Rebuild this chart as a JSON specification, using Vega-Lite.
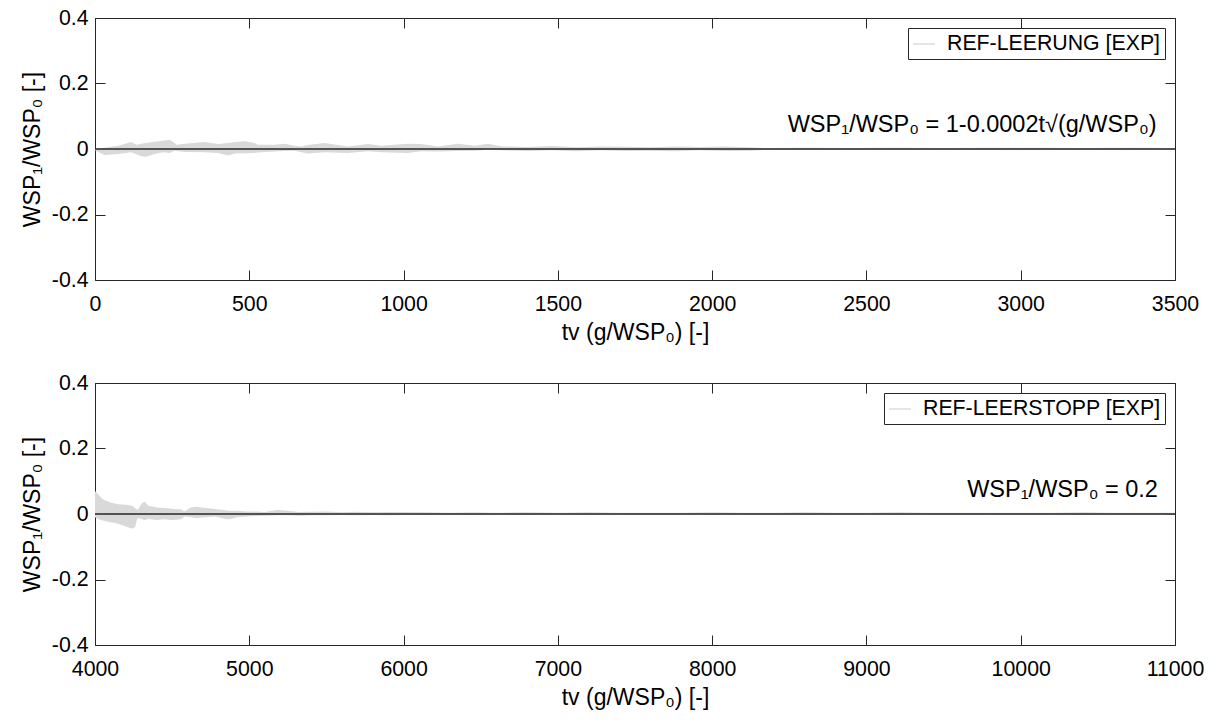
{
  "$schema": "https://vega.github.io/schema/vega-lite/v6.json",
  "autosize": "pad",
  "padding": {"left": 20, "top": 6, "right": 5, "bottom": 5},
  "background": "white",
  "bounds": "flush",
  "spacing": 103,
  "config": {
    "font": "Liberation Sans",
    "view": {"stroke": "#262626", "strokeWidth": 1},
    "axis": {
      "grid": false, "domain": false, "tickColor": "#262626", "tickSize": -10, "tickWidth": 1, "labelFlush": false,
      "labelFont": "Liberation Sans", "labelFontSize": 21.3, "labelColor": "#000",
      "titleFont": "Liberation Sans", "titleFontSize": 23, "titleFontWeight": "normal", "titleColor": "#000"
    },
    "legend": {
      "title": null, "orient": "top-right", "offset": 10, "symbolType": "stroke",
      "symbolStrokeColor": "#dcdcdc", "symbolStrokeWidth": 1.5, "symbolSize": 484,
      "labelFont": "Liberation Sans", "labelFontSize": 21.3, "labelColor": "#000", "labelOffset": 11, "labelLimit": 0,
      "padding": 4, "strokeColor": "#262626", "fillColor": "white", "cornerRadius": 0
    }
  },
  "datasets": {
    "top": [
      {"tv": 0, "lo": -0.004, "hi": 0.000},
      {"tv": 30, "lo": -0.018, "hi": 0.004},
      {"tv": 75, "lo": -0.015, "hi": 0.010},
      {"tv": 118, "lo": -0.010, "hi": 0.021},
      {"tv": 134, "lo": -0.016, "hi": 0.013},
      {"tv": 150, "lo": -0.022, "hi": 0.016},
      {"tv": 166, "lo": -0.024, "hi": 0.018},
      {"tv": 193, "lo": -0.015, "hi": 0.022},
      {"tv": 220, "lo": -0.010, "hi": 0.025},
      {"tv": 242, "lo": -0.012, "hi": 0.028},
      {"tv": 258, "lo": -0.005, "hi": 0.018},
      {"tv": 264, "lo": -0.006, "hi": 0.013},
      {"tv": 291, "lo": -0.009, "hi": 0.016},
      {"tv": 355, "lo": -0.010, "hi": 0.021},
      {"tv": 399, "lo": -0.012, "hi": 0.015},
      {"tv": 431, "lo": -0.020, "hi": 0.018},
      {"tv": 453, "lo": -0.014, "hi": 0.021},
      {"tv": 485, "lo": -0.013, "hi": 0.024},
      {"tv": 517, "lo": -0.012, "hi": 0.018},
      {"tv": 528, "lo": -0.011, "hi": 0.013},
      {"tv": 582, "lo": -0.008, "hi": 0.013},
      {"tv": 615, "lo": -0.006, "hi": 0.016},
      {"tv": 647, "lo": -0.005, "hi": 0.010},
      {"tv": 669, "lo": -0.010, "hi": 0.008},
      {"tv": 690, "lo": -0.014, "hi": 0.012},
      {"tv": 744, "lo": -0.010, "hi": 0.018},
      {"tv": 820, "lo": -0.012, "hi": 0.008},
      {"tv": 885, "lo": -0.007, "hi": 0.015},
      {"tv": 928, "lo": -0.010, "hi": 0.010},
      {"tv": 1014, "lo": -0.012, "hi": 0.016},
      {"tv": 1057, "lo": -0.007, "hi": 0.015},
      {"tv": 1111, "lo": -0.008, "hi": 0.008},
      {"tv": 1176, "lo": -0.006, "hi": 0.016},
      {"tv": 1230, "lo": -0.005, "hi": 0.010},
      {"tv": 1273, "lo": -0.002, "hi": 0.016},
      {"tv": 1320, "lo": -0.004, "hi": 0.008},
      {"tv": 1400, "lo": -0.006, "hi": 0.006},
      {"tv": 1480, "lo": -0.004, "hi": 0.009},
      {"tv": 1560, "lo": -0.007, "hi": 0.005},
      {"tv": 1640, "lo": -0.004, "hi": 0.008},
      {"tv": 1720, "lo": -0.006, "hi": 0.007},
      {"tv": 1800, "lo": -0.005, "hi": 0.005},
      {"tv": 1880, "lo": -0.007, "hi": 0.008},
      {"tv": 1960, "lo": -0.004, "hi": 0.006},
      {"tv": 2040, "lo": -0.006, "hi": 0.008},
      {"tv": 2120, "lo": -0.005, "hi": 0.005},
      {"tv": 2170, "lo": -0.003, "hi": 0.003},
      {"tv": 2300, "lo": -0.003, "hi": 0.004},
      {"tv": 2450, "lo": -0.002, "hi": 0.003},
      {"tv": 2600, "lo": -0.003, "hi": 0.004},
      {"tv": 2750, "lo": -0.002, "hi": 0.003},
      {"tv": 2900, "lo": -0.003, "hi": 0.004},
      {"tv": 3050, "lo": -0.002, "hi": 0.004},
      {"tv": 3200, "lo": -0.003, "hi": 0.003},
      {"tv": 3350, "lo": -0.002, "hi": 0.004},
      {"tv": 3500, "lo": -0.003, "hi": 0.003}
    ],
    "bot": [
      {"tv": 4000, "lo": -0.010, "hi": 0.070},
      {"tv": 4020, "lo": -0.015, "hi": 0.060},
      {"tv": 4050, "lo": -0.020, "hi": 0.045},
      {"tv": 4100, "lo": -0.025, "hi": 0.035},
      {"tv": 4150, "lo": -0.030, "hi": 0.030},
      {"tv": 4200, "lo": -0.038, "hi": 0.028},
      {"tv": 4240, "lo": -0.045, "hi": 0.025},
      {"tv": 4260, "lo": -0.040, "hi": 0.018},
      {"tv": 4275, "lo": -0.012, "hi": 0.012},
      {"tv": 4300, "lo": -0.015, "hi": 0.030},
      {"tv": 4320, "lo": -0.018, "hi": 0.038},
      {"tv": 4345, "lo": -0.015, "hi": 0.025},
      {"tv": 4400, "lo": -0.018, "hi": 0.020},
      {"tv": 4450, "lo": -0.016, "hi": 0.018},
      {"tv": 4500, "lo": -0.018, "hi": 0.016},
      {"tv": 4560, "lo": -0.016, "hi": 0.014},
      {"tv": 4580, "lo": -0.008, "hi": 0.008},
      {"tv": 4620, "lo": -0.010, "hi": 0.020},
      {"tv": 4660, "lo": -0.012, "hi": 0.022},
      {"tv": 4720, "lo": -0.010, "hi": 0.018},
      {"tv": 4780, "lo": -0.008, "hi": 0.015},
      {"tv": 4830, "lo": -0.014, "hi": 0.012},
      {"tv": 4870, "lo": -0.016, "hi": 0.010},
      {"tv": 4920, "lo": -0.010, "hi": 0.010},
      {"tv": 4980, "lo": -0.008, "hi": 0.008},
      {"tv": 5050, "lo": -0.006, "hi": 0.008},
      {"tv": 5100, "lo": -0.005, "hi": 0.006},
      {"tv": 5180, "lo": -0.004, "hi": 0.012},
      {"tv": 5250, "lo": -0.004, "hi": 0.010},
      {"tv": 5320, "lo": -0.005, "hi": 0.006},
      {"tv": 5400, "lo": -0.004, "hi": 0.007},
      {"tv": 5500, "lo": -0.004, "hi": 0.008},
      {"tv": 5600, "lo": -0.003, "hi": 0.005},
      {"tv": 5700, "lo": -0.004, "hi": 0.007},
      {"tv": 5800, "lo": -0.003, "hi": 0.005},
      {"tv": 5900, "lo": -0.004, "hi": 0.006},
      {"tv": 6000, "lo": -0.003, "hi": 0.006},
      {"tv": 6150, "lo": -0.003, "hi": 0.005},
      {"tv": 6300, "lo": -0.003, "hi": 0.004},
      {"tv": 6450, "lo": -0.003, "hi": 0.005},
      {"tv": 6600, "lo": -0.002, "hi": 0.004},
      {"tv": 6800, "lo": -0.003, "hi": 0.005},
      {"tv": 7000, "lo": -0.002, "hi": 0.004},
      {"tv": 7200, "lo": -0.003, "hi": 0.005},
      {"tv": 7400, "lo": -0.002, "hi": 0.004},
      {"tv": 7600, "lo": -0.003, "hi": 0.004},
      {"tv": 7800, "lo": -0.002, "hi": 0.004},
      {"tv": 8000, "lo": -0.003, "hi": 0.005},
      {"tv": 8200, "lo": -0.002, "hi": 0.004},
      {"tv": 8400, "lo": -0.003, "hi": 0.004},
      {"tv": 8600, "lo": -0.002, "hi": 0.005},
      {"tv": 8800, "lo": -0.003, "hi": 0.004},
      {"tv": 9000, "lo": -0.002, "hi": 0.004},
      {"tv": 9200, "lo": -0.003, "hi": 0.005},
      {"tv": 9400, "lo": -0.002, "hi": 0.004},
      {"tv": 9600, "lo": -0.003, "hi": 0.004},
      {"tv": 9800, "lo": -0.002, "hi": 0.004},
      {"tv": 10000, "lo": -0.003, "hi": 0.004},
      {"tv": 10200, "lo": -0.002, "hi": 0.004},
      {"tv": 10400, "lo": -0.003, "hi": 0.005},
      {"tv": 10600, "lo": -0.002, "hi": 0.004},
      {"tv": 10800, "lo": -0.003, "hi": 0.004},
      {"tv": 11000, "lo": -0.002, "hi": 0.004}
    ]
  },
  "resolve": {"scale": {"x": "independent", "y": "independent", "color": "independent"}},
  "vconcat": [
    {
      "width": 1080, "height": 262,
      "resolve": {"axis": {"x": "independent", "y": "independent"}},
      "layer": [
        {
          "data": {"name": "top"},
          "mark": {"type": "area"},
          "encoding": {
            "x": {"field": "tv", "type": "quantitative", "scale": {"domain": [0, 3500], "nice": false, "zero": false},
                  "axis": {"orient": "bottom", "values": [0, 500, 1000, 1500, 2000, 2500, 3000, 3500], "format": "d", "labelPadding": 23.8, "titlePadding": 6, "title": "tv (g/WSP₀) [-]"}},
            "y": {"field": "hi", "type": "quantitative", "scale": {"domain": [-0.4, 0.4], "nice": false},
                  "axis": {"orient": "left", "values": [-0.4, -0.2, 0, 0.2, 0.4], "labelExpr": "toString(datum.value)", "labelPadding": 17, "titlePadding": 7, "title": "WSP₁/WSP₀ [-]"}},
            "y2": {"field": "lo"},
            "color": {"datum": "REF-LEERUNG [EXP]", "type": "nominal", "scale": {"range": ["#d9d9d9"]}}
          }
        },
        {
          "data": {"name": "top"},
          "mark": {"type": "point", "opacity": 0},
          "encoding": {
            "x": {"field": "tv", "type": "quantitative", "scale": {"domain": [0, 3500], "nice": false, "zero": false}, "axis": {"orient": "top", "labels": false, "title": null, "values": [0, 500, 1000, 1500, 2000, 2500, 3000, 3500]}},
            "y": {"field": "hi", "type": "quantitative", "scale": {"domain": [-0.4, 0.4], "nice": false}, "axis": {"orient": "right", "labels": false, "title": null, "values": [-0.4, -0.2, 0, 0.2, 0.4]}}
          }
        },
        {
          "data": {"values": [{"level": 0}]},
          "mark": {"type": "rule", "color": "#262626", "strokeWidth": 1.5},
          "encoding": {"y": {"field": "level", "type": "quantitative", "axis": null}}
        },
        {
          "data": {"values": [{"tv": 3440, "v": 0.052, "label": "WSP₁/WSP₀ = 1-0.0002t√(g/WSP₀)"}]},
          "mark": {"type": "text", "align": "right", "baseline": "alphabetic", "fontSize": 23.5, "color": "#000"},
          "encoding": {
            "x": {"field": "tv", "type": "quantitative", "axis": null},
            "y": {"field": "v", "type": "quantitative", "axis": null},
            "text": {"field": "label"}
          }
        }
      ]
    },
    {
      "width": 1080, "height": 262,
      "resolve": {"axis": {"x": "independent", "y": "independent"}},
      "layer": [
        {
          "data": {"name": "bot"},
          "mark": {"type": "area"},
          "encoding": {
            "x": {"field": "tv", "type": "quantitative", "scale": {"domain": [4000, 11000], "nice": false, "zero": false},
                  "axis": {"orient": "bottom", "values": [4000, 5000, 6000, 7000, 8000, 9000, 10000, 11000], "format": "d", "labelPadding": 23.8, "titlePadding": 6, "title": "tv (g/WSP₀) [-]"}},
            "y": {"field": "hi", "type": "quantitative", "scale": {"domain": [-0.4, 0.4], "nice": false},
                  "axis": {"orient": "left", "values": [-0.4, -0.2, 0, 0.2, 0.4], "labelExpr": "toString(datum.value)", "labelPadding": 17, "titlePadding": 7, "title": "WSP₁/WSP₀ [-]"}},
            "y2": {"field": "lo"},
            "color": {"datum": "REF-LEERSTOPP [EXP]", "type": "nominal", "scale": {"range": ["#d9d9d9"]}}
          }
        },
        {
          "data": {"name": "bot"},
          "mark": {"type": "point", "opacity": 0},
          "encoding": {
            "x": {"field": "tv", "type": "quantitative", "scale": {"domain": [4000, 11000], "nice": false, "zero": false}, "axis": {"orient": "top", "labels": false, "title": null, "values": [4000, 5000, 6000, 7000, 8000, 9000, 10000, 11000]}},
            "y": {"field": "hi", "type": "quantitative", "scale": {"domain": [-0.4, 0.4], "nice": false}, "axis": {"orient": "right", "labels": false, "title": null, "values": [-0.4, -0.2, 0, 0.2, 0.4]}}
          }
        },
        {
          "data": {"values": [{"level": 0}]},
          "mark": {"type": "rule", "color": "#262626", "strokeWidth": 1.5},
          "encoding": {"y": {"field": "level", "type": "quantitative", "axis": null}}
        },
        {
          "data": {"values": [{"tv": 10889, "v": 0.052, "label": "WSP₁/WSP₀ = 0.2"}]},
          "mark": {"type": "text", "align": "right", "baseline": "alphabetic", "fontSize": 23.5, "color": "#000"},
          "encoding": {
            "x": {"field": "tv", "type": "quantitative", "axis": null},
            "y": {"field": "v", "type": "quantitative", "axis": null},
            "text": {"field": "label"}
          }
        }
      ]
    }
  ]
}
